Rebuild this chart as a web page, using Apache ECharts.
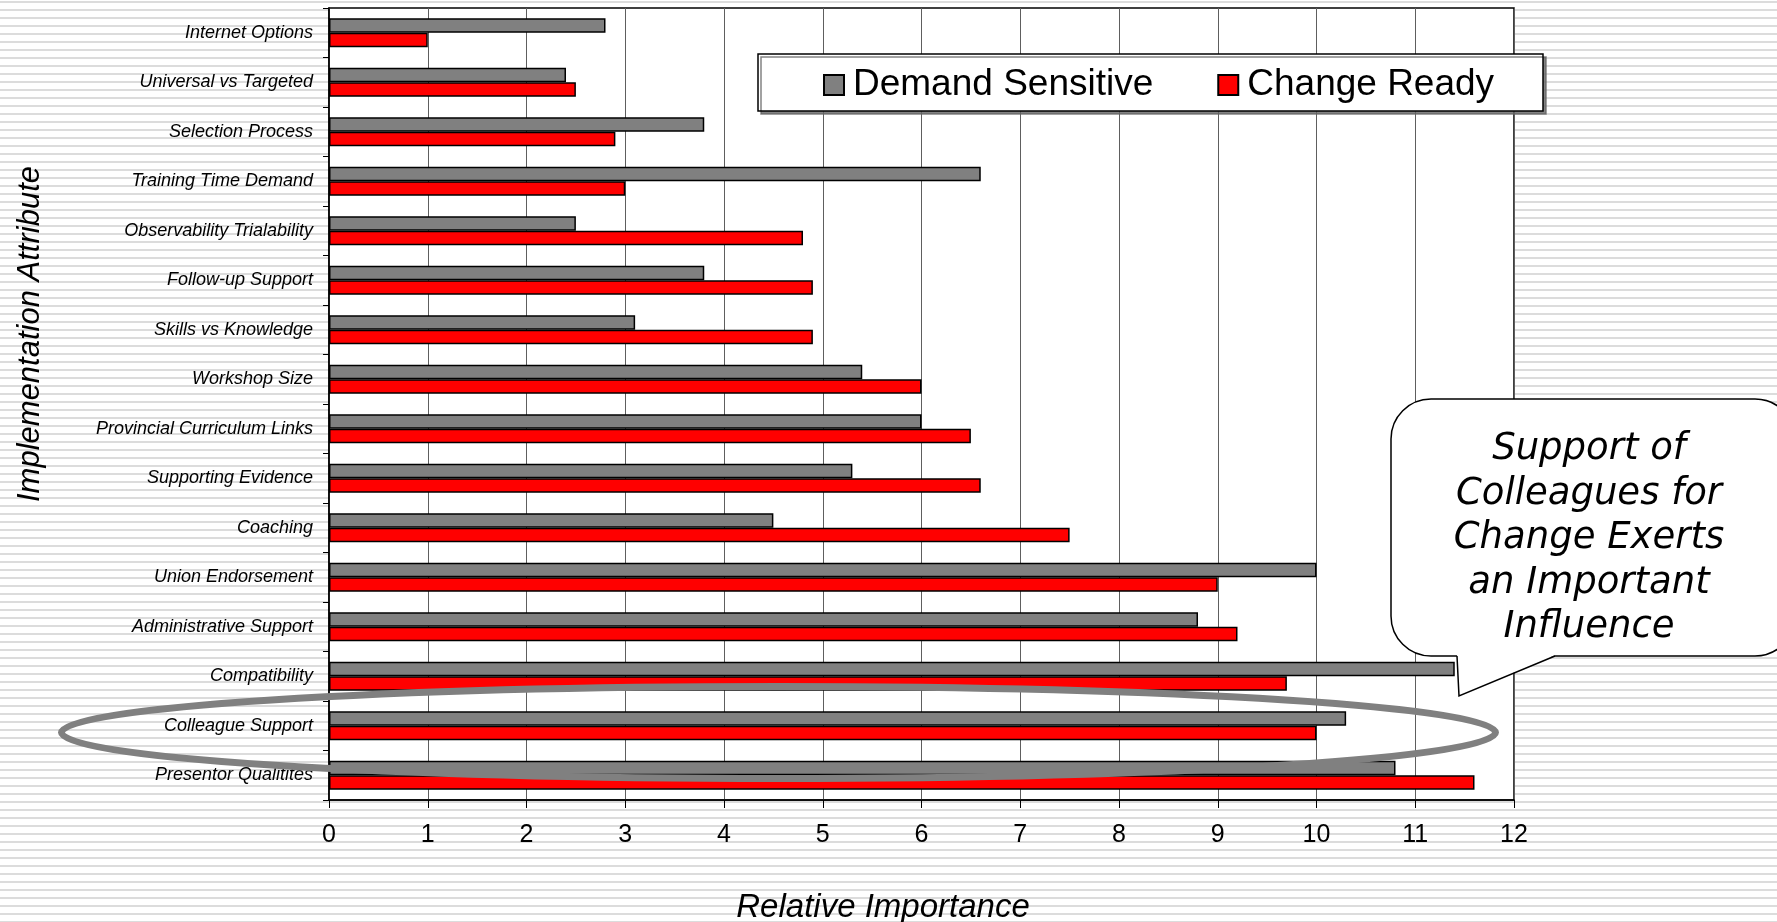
<!DOCTYPE html>
<html>
<head>
<meta charset="utf-8">
<title>Implementation Attribute – Relative Importance</title>
<script src="https://cdn.jsdelivr.net/npm/echarts@6/dist/echarts.min.js"></script>
<style>
  html, body { margin: 0; padding: 0; }
  body {
    width: 1777px; height: 922px; overflow: hidden;
    background: repeating-linear-gradient(to bottom,
      #ffffff 0px, #ffffff 1px,
      #dcdcdc 1px, #dcdcdc 3px,
      #ffffff 3px, #ffffff 8px);
  }
  #chart { width: 1777px; height: 922px; }
</style>
</head>
<body>
<div id="chart"></div>
<script>
// Implementation attributes, listed top to bottom
const attributes = [
  'Internet Options',
  'Universal vs Targeted',
  'Selection Process',
  'Training Time Demand',
  'Observability Trialability',
  'Follow-up Support',
  'Skills vs Knowledge',
  'Workshop Size',
  'Provincial Curriculum Links',
  'Supporting Evidence',
  'Coaching',
  'Union Endorsement',
  'Administrative Support',
  'Compatibility',
  'Colleague Support',
  'Presentor Qualitites'
];

// Relative importance by segment
const demandSensitive = [2.8, 2.4, 3.8, 6.6, 2.5, 3.8, 3.1, 5.4, 6.0, 5.3, 4.5, 10.0, 8.8, 11.4, 10.3, 10.8];
const changeReady     = [1.0, 2.5, 2.9, 3.0, 4.8, 4.9, 4.9, 6.0, 6.5, 6.6, 7.5, 9.0, 9.2, 9.7, 10.0, 11.6];

const seriesNames = ['Demand Sensitive', 'Change Ready'];
const xTicks = { min: 0, max: 12, interval: 1 };

const calloutLines = ['Support of', 'Colleagues for', 'Change Exerts', 'an Important', 'Influence'];

const FONT = "'Liberation Sans', Arial, sans-serif";

const chart = echarts.init(document.getElementById('chart'), null, { renderer: 'canvas' });

chart.setOption({
  animation: false,
  grid: {
    left: 329, top: 8, right: 263, bottom: 122,
    show: true,
    backgroundColor: '#ffffff',
    borderColor: '#000000',
    borderWidth: 1.5
  },
  legend: {
    data: seriesNames,
    left: 823,
    top: 65,
    padding: 0,
    itemWidth: 20,
    itemHeight: 20,
    itemGap: 64,
    icon: 'rect',
    textStyle: {
      fontFamily: FONT,
      fontSize: 37,
      color: '#000',
      lineHeight: 40,
      padding: [0, 0, 0, 4]
    }
  },
  xAxis: {
    type: 'value',
    min: xTicks.min,
    max: xTicks.max,
    interval: xTicks.interval,
    axisLine: { show: true, lineStyle: { color: '#000', width: 1.5 } },
    axisTick: { show: true, inside: false, length: 8, lineStyle: { color: '#000', width: 1 } },
    axisLabel: { fontFamily: FONT, fontSize: 25, color: '#000', margin: 23 },
    splitLine: { show: true, lineStyle: { color: '#5e5e5e', width: 1 } }
  },
  yAxis: {
    type: 'category',
    data: attributes,
    inverse: true,
    axisLine: { show: true, lineStyle: { color: '#000', width: 1.5 } },
    axisTick: { show: true, inside: false, length: 6, lineStyle: { color: '#000', width: 1 } },
    axisLabel: { fontFamily: FONT, fontStyle: 'italic', fontSize: 18, color: '#000', margin: 16 },
    splitLine: { show: false }
  },
  series: [
    {
      name: seriesNames[0],
      type: 'bar',
      data: demandSensitive,
      barWidth: 14.5,
      barGap: '0%',
      itemStyle: { color: '#808080', borderColor: '#000', borderWidth: 1.5 }
    },
    {
      name: seriesNames[1],
      type: 'bar',
      data: changeReady,
      barWidth: 14.5,
      barGap: '0%',
      itemStyle: { color: '#ff0000', borderColor: '#000', borderWidth: 1.5 }
    }
  ],
  graphic: [
    // Legend frame with drop shadow
    {
      type: 'rect', z: 3,
      shape: { x: 758, y: 54, width: 785, height: 57 },
      style: {
        fill: '#ffffff', stroke: '#000', lineWidth: 1.5,
        shadowColor: 'rgba(100,100,100,0.8)', shadowOffsetX: 3, shadowOffsetY: 3, shadowBlur: 0
      }
    },
    // Axis titles
    {
      type: 'text', z: 5,
      x: 30, y: 334, rotation: Math.PI / 2,
      style: {
        text: 'Implementation Attribute',
        font: 'italic 31px ' + FONT,
        fill: '#000', align: 'center', verticalAlign: 'middle'
      }
    },
    {
      type: 'text', z: 5,
      x: 883, y: 908,
      style: {
        text: 'Relative Importance',
        font: 'italic 33px ' + FONT,
        fill: '#000', align: 'center', verticalAlign: 'middle'
      }
    },
    // Ring around the colleague-support row
    {
      type: 'ellipse', z: 10,
      shape: { cx: 778.5, cy: 732.5, rx: 717, ry: 46 },
      style: { fill: 'none', stroke: '#808080', lineWidth: 7 }
    },
    // Speech bubble: rounded body, tail fill, tail outline
    {
      type: 'rect', z: 11,
      shape: { x: 1391, y: 399, width: 404, height: 257, r: 40 },
      style: { fill: '#ffffff', stroke: '#000', lineWidth: 1.5 }
    },
    {
      type: 'polygon', z: 12,
      shape: { points: [[1557, 654.3], [1459, 696], [1457, 654.3]] },
      style: { fill: '#ffffff', stroke: null }
    },
    {
      type: 'polyline', z: 13,
      shape: { points: [[1555, 656], [1459, 696], [1457, 656]] },
      style: { fill: null, stroke: '#000', lineWidth: 1.5 }
    },
    {
      type: 'text', z: 14,
      x: 1589, y: 538.5,
      style: {
        text: calloutLines.join('\n'),
        font: "italic 37px 'DejaVu Sans', Verdana, sans-serif",
        lineHeight: 44.5,
        fill: '#000', align: 'center', verticalAlign: 'middle'
      }
    }
  ]
});
</script>
</body>
</html>
